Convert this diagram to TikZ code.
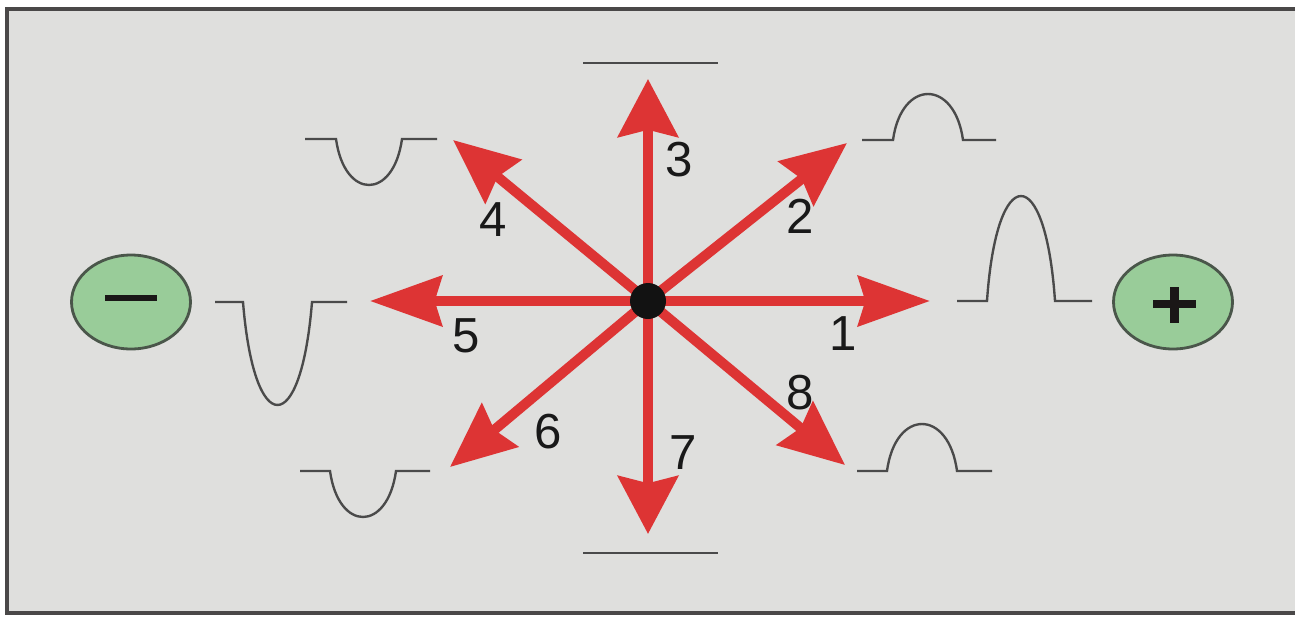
\documentclass[tikz,border=0pt]{standalone}
\usepackage{fontspec}
\setmainfont{Liberation Sans}
\usetikzlibrary{arrows.meta,shapes.geometric}
\definecolor{bg}{HTML}{DFDFDD}
\definecolor{framec}{HTML}{4A4848}
\definecolor{arrowred}{HTML}{DD3434}
\definecolor{wavec}{HTML}{4A4A4A}
\definecolor{electrodefill}{HTML}{99CC99}
\definecolor{electrodeline}{HTML}{4A564A}
\definecolor{signc}{HTML}{1A1717}
\newcommand\wavepath[7]{\draw[wave] (#1,#5) -- (#2,#5) .. controls ({#2+#7*(#3-#2)},{#5-1.333*#6}) and ({#3-#7*(#3-#2)},{#5-1.333*#6}) .. (#3,#5) -- (#4,#5);}
\begin{document}
\begin{tikzpicture}[x=0.02cm,y=-0.02cm,
  ray/.style={draw=arrowred, fill=arrowred, line width=5.7pt},
  hray/.style={ray, -{Stealth[length=40.8pt,width=28.3pt,inset=4pt]}},
  vray/.style={ray, -{Stealth[length=32.9pt,width=34pt,inset=4pt]}},
  dray/.style={ray, -{Stealth[length=36.9pt,width=31.8pt,inset=4pt]}},
  wave/.style={draw=wavec, line width=1.35pt},
  electrode/.style={ellipse, draw=electrodeline, fill=electrodefill, line width=1.6pt, minimum width=2.38cm, minimum height=1.88cm, inner sep=0pt},
  lbl/.style={font=\fontsize{28pt}{30pt}\selectfont, text=black!90, inner sep=0pt},
  sign/.style={fill=signc}
]
\useasboundingbox (0,0) rectangle (1295,616);
\begin{scope}
\clip (0,0) rectangle (1295,616);
\fill[white] (0,0) rectangle (1295,616);
\draw[draw=framec, fill=bg, line width=2.27pt] (7,9) rectangle (1320,613);
\end{scope}

% centre and arrow tips
\coordinate (c) at (648,301);
\coordinate (t1) at (930,301);
\coordinate (t2) at (847,143);
\coordinate (t3) at (648,79);
\coordinate (t4) at (453,140);
\coordinate (t5) at (370,301);
\coordinate (t6) at (450,467);
\coordinate (t7) at (648,534);
\coordinate (t8) at (845,465);

\draw[hray] (c) -- (t1);
\draw[hray] (c) -- (t5);
\draw[vray] (c) -- (t3);
\draw[vray] (c) -- (t7);
\draw[dray] (c) -- (t2);
\draw[dray] (c) -- (t4);
\draw[dray] (c) -- (t6);
\draw[dray] (c) -- (t8);

\node[circle, fill=black!93, minimum size=0.72cm, inner sep=0pt] (dot) at (c) {};

% labels
\node[lbl] (l1) at (843,334) {1};
\node[lbl] (l2) at (800,216) {2};
\node[lbl] (l3) at (679,160) {3};
\node[lbl] (l4) at (493,220) {4};
\node[lbl] (l5) at (466,336) {5};
\node[lbl] (l6) at (548,432) {6};
\node[lbl] (l7) at (683,453) {7};
\node[lbl] (l8) at (800,393) {8};

% waveforms
\wavepath{215}{243}{312}{347}{302}{-103}{0.16}
\wavepath{305}{336}{402}{437}{139}{-46}{0.13}
\wavepath{300}{330}{396}{430}{471}{-46}{0.13}
\wavepath{862}{893}{963}{996}{140}{46}{0.12}
\wavepath{957}{987}{1055}{1092}{301}{105}{0.14}
\wavepath{857}{887}{957}{992}{471}{47}{0.12}
\draw[wave] (583,63) -- (718,63);
\draw[wave] (583,553) -- (718,553);

% electrodes
\node[electrode] (minus) at (131,302) {};
\fill[sign] (105,295) rectangle (157,301);
\node[electrode] (plus) at (1173,302) {};
\fill[sign] (1153,300) rectangle (1196,308);
\fill[sign] (1170,287) rectangle (1179,323);
\end{tikzpicture}
\end{document}
